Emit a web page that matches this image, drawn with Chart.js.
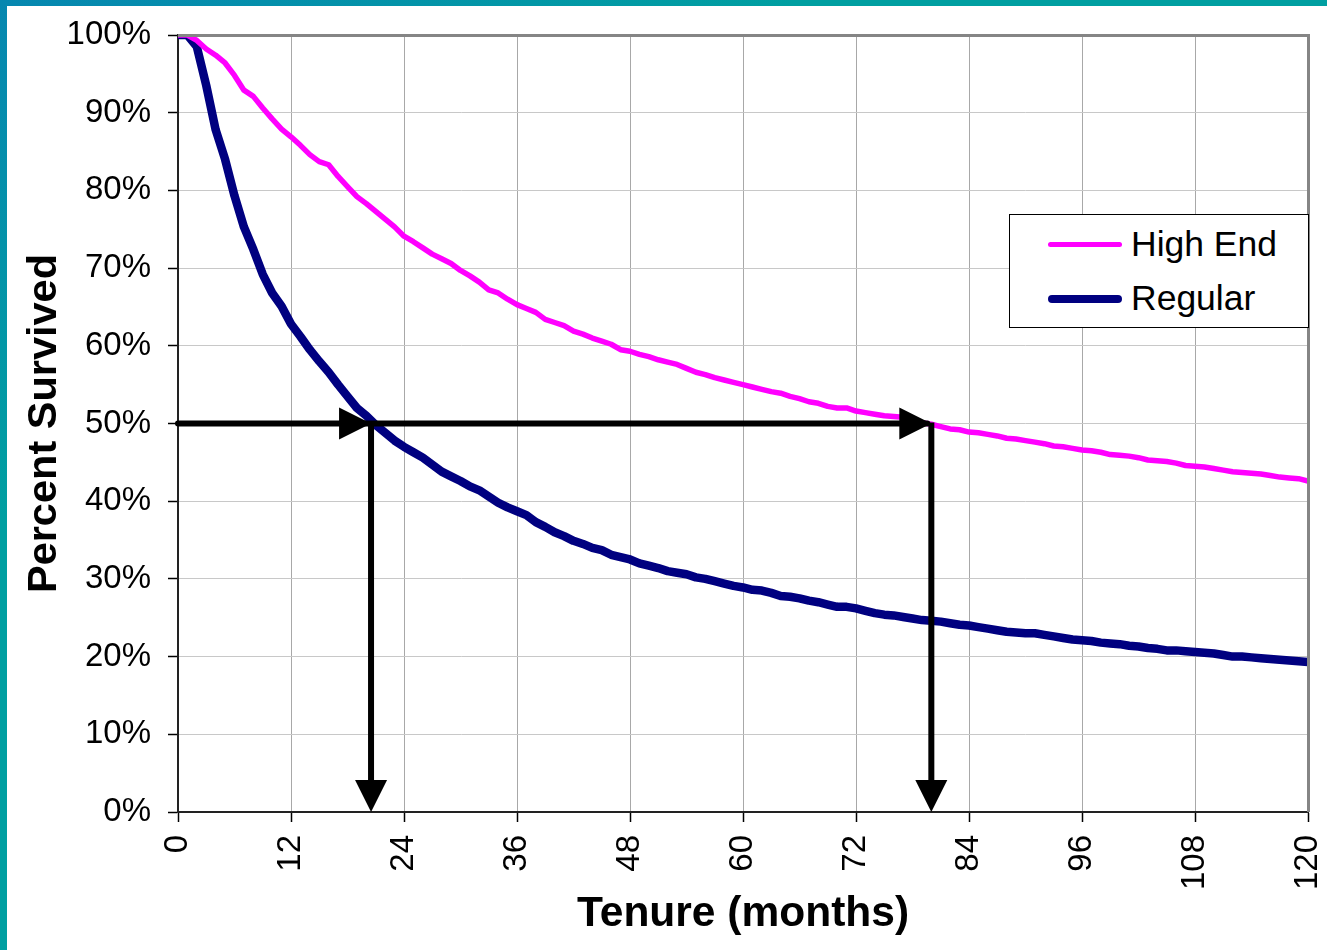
<!DOCTYPE html>
<html>
<head>
<meta charset="utf-8">
<script src="https://cdn.jsdelivr.net/npm/chart.js@4/dist/chart.umd.min.js"></script>
<style>
  html,body{margin:0;padding:0;background:#fff;}
  body{width:1327px;height:950px;position:relative;overflow:hidden;font-family:"Liberation Sans",Arial,sans-serif;}
  #wrap{position:absolute;left:0;top:0;width:1327px;height:950px;}
  #stripTop{position:absolute;left:0;top:0;width:1327px;height:6px;background:linear-gradient(to right,#0687b0,#009fa1 60%);}
  #stripLeft{position:absolute;left:0;top:0;width:7px;height:950px;background:linear-gradient(to bottom,#0687b0,#009fa1 55%);}
  #legend{position:absolute;left:1009px;top:214px;width:298px;height:112px;border:1px solid #000;background:#fff;}
  .item{position:absolute;left:0;height:40px;width:298px;}
  .swatch{position:absolute;left:38px;width:74px;border-radius:4px;}
  .lbl{position:absolute;left:121px;font-size:35.5px;line-height:40px;color:#000;white-space:nowrap;}
</style>
</head>
<body>
<div id="wrap"><canvas id="c" width="1327" height="950"></canvas></div>
<div id="stripTop"></div>
<div id="stripLeft"></div>
<div id="legend">
  <div class="item" style="top:9px"><div class="swatch" style="top:18px;height:5px;background:#ff00ff"></div><div class="lbl" style="top:0">High End</div></div>
  <div class="item" style="top:63px"><div class="swatch" style="top:17px;height:8px;background:#000080"></div><div class="lbl" style="top:0">Regular</div></div>
</div>
<script>
// ---- data ----
const months = Array.from({length:121},(_,i)=>i); // tenure 0..120 months
const highEnd = [100,100,99.3,98.2,97.4,96.4,94.8,92.9,92.1,90.6,89.2,87.9,86.9,85.8,84.6,83.7,83.3,81.8,80.5,79.2,
78.3,77.3,76.3,75.3,74.1,73.4,72.6,71.8,71.2,70.6,69.7,69.0,68.2,67.2,66.8,66.0,65.3,64.8,64.3,63.4,
63.0,62.6,61.9,61.5,61.0,60.6,60.2,59.5,59.3,58.9,58.6,58.2,57.9,57.6,57.1,56.6,56.3,55.9,55.6,55.3,
55.0,54.7,54.4,54.1,53.9,53.5,53.2,52.8,52.6,52.2,52.0,52.0,51.6,51.4,51.2,51.0,50.9,50.8,50.3,50.1,
49.9,49.6,49.3,49.2,48.9,48.8,48.6,48.4,48.1,48.0,47.8,47.6,47.4,47.1,47.0,46.8,46.6,46.5,46.3,46.0,
45.9,45.8,45.6,45.3,45.2,45.1,44.9,44.6,44.5,44.4,44.2,44.0,43.8,43.7,43.6,43.5,43.3,43.1,43.0,42.9,42.6];
const regular = [100,100,98.5,93.5,87.8,84.0,79.3,75.3,72.4,69.2,66.8,65.1,62.8,61.2,59.5,58.0,56.6,55.0,53.5,52.0,
51.0,49.8,48.8,47.8,47.0,46.3,45.6,44.7,43.8,43.2,42.6,41.9,41.4,40.6,39.8,39.2,38.7,38.2,37.3,36.7,
36.0,35.5,34.9,34.5,34.0,33.7,33.1,32.8,32.5,32.0,31.7,31.4,31.0,30.8,30.6,30.2,30.0,29.7,29.4,29.1,
28.9,28.6,28.5,28.2,27.8,27.7,27.5,27.2,27.0,26.7,26.4,26.4,26.2,25.9,25.6,25.4,25.3,25.1,24.9,24.7,
24.6,24.5,24.3,24.1,24.0,23.8,23.6,23.4,23.2,23.1,23.0,23.0,22.8,22.6,22.4,22.2,22.1,22.0,21.8,21.7,
21.6,21.4,21.3,21.1,21.0,20.8,20.8,20.7,20.6,20.5,20.4,20.2,20.0,20.0,19.9,19.8,19.7,19.6,19.5,19.4,19.3];
const seriesNames = ['High End','Regular'];
const xTicks = [0,12,24,36,48,60,72,84,96,108,120];
const yTicks = [0,10,20,30,40,50,60,70,80,90,100];
const medianMonths = [20.5, 80]; // where each curve crosses 50%
const medianLevel = 50;

const FONT = '"Liberation Sans", Arial, sans-serif';

const frame = {
  id:'frame',
  afterDraw(chart){
    const {ctx, chartArea:a} = chart;
    ctx.save();
    ctx.strokeStyle = '#858585';
    ctx.lineWidth = 3;
    ctx.beginPath();
    ctx.moveTo(a.left, a.top+0.5);
    ctx.lineTo(a.right+0.5, a.top+0.5);
    ctx.lineTo(a.right+0.5, a.bottom);
    ctx.stroke();
    ctx.restore();
  }
};

const arrows = {
  id:'arrows',
  afterDatasetsDraw(chart){
    const {ctx, scales:{x,y}} = chart;
    const y50 = y.getPixelForValue(medianLevel);
    const y0 = y.getPixelForValue(0);
    const x0 = x.getPixelForValue(0);
    const xEnd = x.getPixelForValue(Math.max(...medianMonths));
    const L = 32, H = 16;
    ctx.save();
    ctx.strokeStyle = '#000';
    ctx.fillStyle = '#000';
    ctx.lineWidth = 6;
    ctx.lineCap = 'round';
    ctx.beginPath();
    ctx.moveTo(x0, y50);
    ctx.lineTo(xEnd - 4, y50);
    ctx.stroke();
    ctx.lineCap = 'butt';
    medianMonths.forEach(m=>{
      const xp = x.getPixelForValue(m);
      ctx.beginPath();
      ctx.moveTo(xp, y50);
      ctx.lineTo(xp - L, y50 - H);
      ctx.lineTo(xp - L, y50 + H);
      ctx.closePath();
      ctx.fill();
      ctx.beginPath();
      ctx.moveTo(xp, y50 - 1);
      ctx.lineTo(xp, y0 - L + 2);
      ctx.stroke();
      ctx.beginPath();
      ctx.moveTo(xp, y0);
      ctx.lineTo(xp - H, y0 - L);
      ctx.lineTo(xp + H, y0 - L);
      ctx.closePath();
      ctx.fill();
    });
    ctx.restore();
  }
};

new Chart(document.getElementById('c'), {
  type:'line',
  data:{
    datasets:[
      {label:seriesNames[0], data:months.map((m,i)=>({x:m,y:highEnd[i]})), borderColor:'#ff00ff', borderWidth:5.5, pointRadius:0, tension:0, borderCapStyle:'round', borderJoinStyle:'round'},
      {label:seriesNames[1], data:months.map((m,i)=>({x:m,y:regular[i]})), borderColor:'#000080', borderWidth:8.5, pointRadius:0, tension:0, borderCapStyle:'round', borderJoinStyle:'round'}
    ]
  },
  options:{
    responsive:false,
    animation:false,
    layout:{padding:{top:35,right:19,left:0,bottom:0}},
    plugins:{legend:{display:false}, tooltip:{enabled:false}},
    scales:{
      x:{
        type:'linear', min:0, max:120,
        afterBuildTicks(s){ s.ticks = xTicks.map(v=>({value:v})); },
        afterFit(s){ s.height = 138; s.paddingLeft = 0; s.paddingRight = 0; },
        ticks:{color:'#000', font:{family:FONT,size:33}, maxRotation:90, minRotation:90, padding:13, autoSkip:false},
        grid:{color:'#a8a8a8', lineWidth:1, tickLength:10, tickColor:'#000', tickWidth:1.5},
        border:{color:'#222', width:2},
        title:{display:true, text:'Tenure (months)', color:'#000', font:{family:FONT,size:42.5,weight:'bold'}, padding:{top:0,bottom:10}}
      },
      y:{
        type:'linear', min:0, max:100,
        afterBuildTicks(s){ s.ticks = yTicks.map(v=>({value:v})); },
        afterFit(s){ s.width = 178; s.paddingTop = 0; s.paddingBottom = 0; },
        ticks:{color:'#000', font:{family:FONT,size:33}, padding:17, callback:v=>v+'%'},
        grid:{color:'#c8c8c8', lineWidth:1, tickLength:10, tickColor:'#000', tickWidth:1.5},
        border:{color:'#222', width:2},
        title:{display:true, text:'Percent Survived', color:'#000', font:{family:FONT,size:41.5,weight:'bold'}, padding:{top:20,bottom:0}}
      }
    }
  },
  plugins:[frame, arrows]
});
</script>
</body>
</html>
